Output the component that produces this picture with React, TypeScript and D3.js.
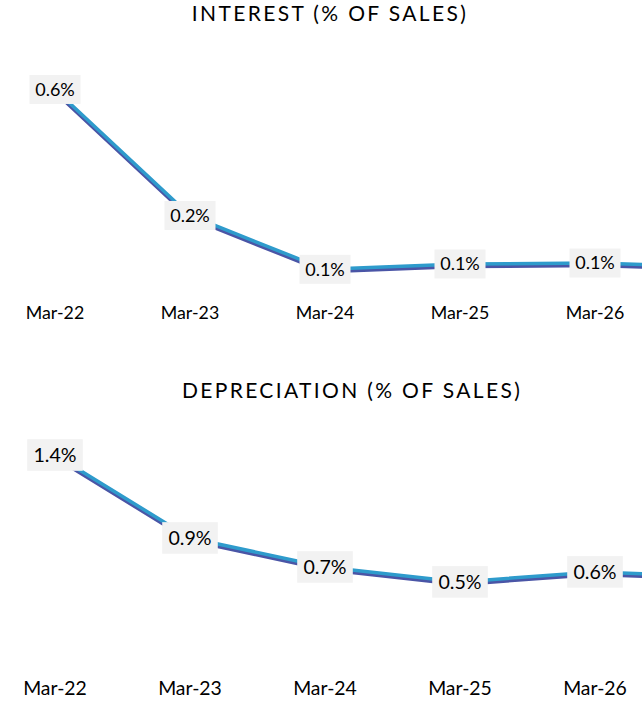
import React from 'react';
import * as d3 from 'd3';

const categories = ['Mar-22', 'Mar-23', 'Mar-24', 'Mar-25', 'Mar-26', 'Mar-27'];
const interestValues = [0.635, 0.235, 0.064, 0.081, 0.084, 0.07];
const depreciationValues = [1.424, 0.852, 0.652, 0.549, 0.618, 0.58];

const W = 642;
const H = 715;

interface Panel {
  title: string;
  values: number[];
  yMax: number;
  yRange: [number, number];
  titleX: number;
  titleY: number;
  axisY: number;
  scale: number;
}

const panels: Panel[] = [
  { title: 'INTEREST (% OF SALES)', values: interestValues, yMax: 0.7, yRange: [289.5, 69], titleX: 330, titleY: 21, axisY: 319, scale: 1 },
  { title: 'DEPRECIATION (% OF SALES)', values: depreciationValues, yMax: 1.6, yRange: [661.5, 429.5], titleX: 352, titleY: 398, axisY: 695, scale: 1.09 },
];

// the last category sits past the right edge of the picture (clipped, as in the source)
const x = d3.scalePoint<string>().domain(categories).range([55, 730]);
const visible = (c: string) => (x(c) as number) < W;

function LinePanel({ p }: { p: Panel }) {
  const y = d3.scaleLinear().domain([0, p.yMax]).range(p.yRange);
  const line = d3.line<number>()
    .x((_, i) => x(categories[i]) as number)
    .y(d => y(d));
  const path = line(p.values) || '';
  const bw = 51 * p.scale;
  const bh = 29 * p.scale;

  return (
    <g>
      <text x={p.titleX} y={p.titleY} textAnchor="middle" fontSize={21} letterSpacing={2.35} fill="#000">
        {p.title}
      </text>
      <path d={path} fill="none" stroke="#4a55a6" strokeWidth={3.5} transform="translate(0,2.5)" strokeLinejoin="round" />
      <path d={path} fill="none" stroke="#2e9bcc" strokeWidth={3.5} strokeLinejoin="round" />
      {p.values.map((v, i) => {
        const c = categories[i];
        if (!visible(c)) return null;
        const cx = x(c) as number;
        const cy = y(v);
        return (
          <g key={c}>
            <rect x={cx - bw / 2} y={cy - bh / 2} width={bw} height={bh} fill="#f2f2f2" />
            <text x={cx} y={cy + 6.3 * p.scale} textAnchor="middle" fontSize={18 * p.scale} fill="#000">
              {d3.format('.1%')(v / 100)}
            </text>
          </g>
        );
      })}
      {categories.filter(visible).map(c => (
        <text key={c} x={x(c) as number} y={p.axisY} textAnchor="middle" fontSize={17.8 * p.scale} fill="#000">
          {c}
        </text>
      ))}
    </g>
  );
}

export default function App() {
  return (
    <svg
      width={W}
      height={H}
      style={{ position: 'absolute', left: 0, top: 0, background: '#fff', fontFamily: 'Lato, "Noto Sans", sans-serif' }}
    >
      {panels.map(p => <LinePanel key={p.title} p={p} />)}
    </svg>
  );
}
